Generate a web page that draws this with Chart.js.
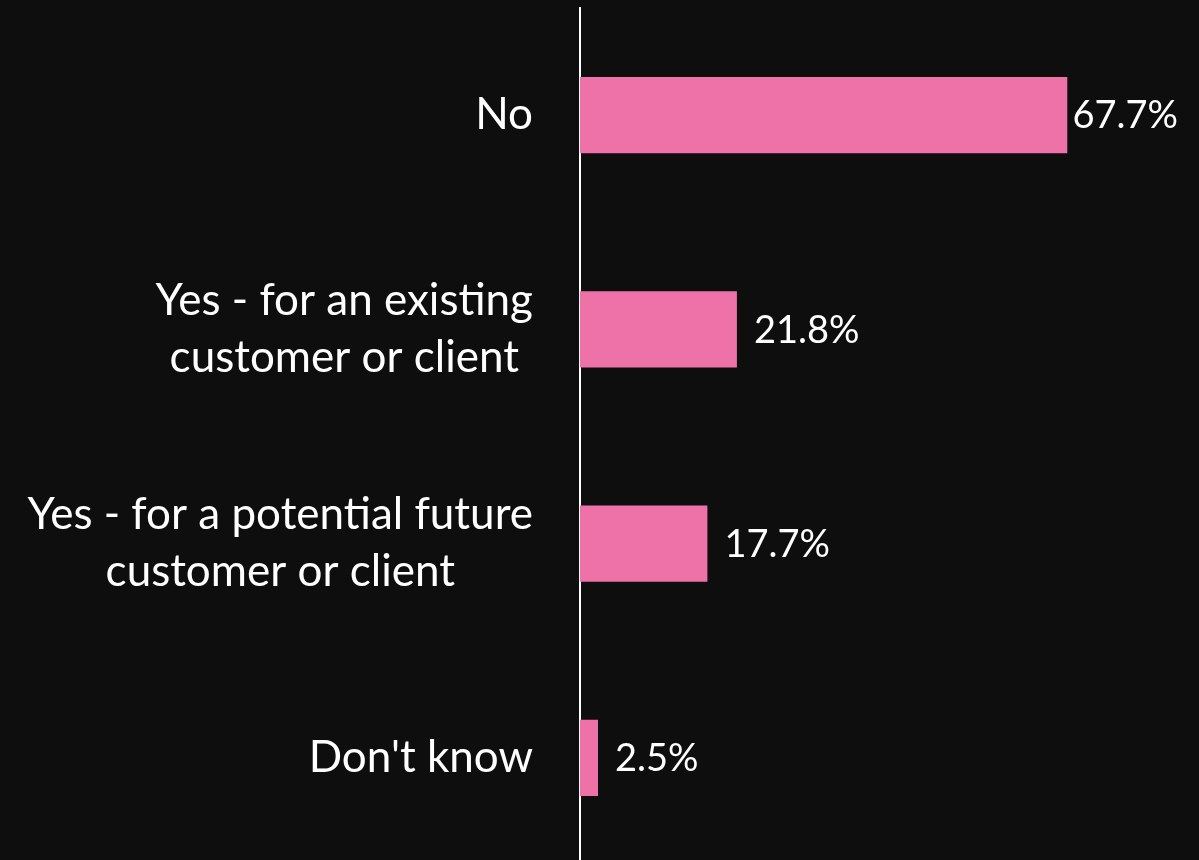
<!DOCTYPE html>
<html>
<head>
<meta charset="utf-8">
<script src="https://cdn.jsdelivr.net/npm/chart.js@4"></script>
<style>
  html, body { margin: 0; padding: 0; background: #0e0e0e; overflow: hidden; }
  #wrap { width: 1199px; height: 865px; }
</style>
</head>
<body>
<div id="wrap"><canvas id="answerChart"></canvas></div>
<script>
// answer categories (one entry per line of the label)
var categories = [
  ["No"],
  ["Yes - for an existing", "customer or client"],
  ["Yes - for a potential future", "customer or client"],
  ["Don't know"]
];
var shares = [67.7, 21.8, 17.7, 2.5];
var valueLabels = ["67.7%", "21.8%", "17.7%", "2.5%"];

var labelFont = "44px Lato";
var valueFont = "38px Lato";

// category labels: each block right-aligned to the axis, its lines centered
var categoryLabels = {
  id: "categoryLabels",
  afterDraw: function(chart) {
    var ctx = chart.ctx;
    var yScale = chart.scales.y;
    var rightEdge = 533;
    var lineGap = 57;
    ctx.save();
    ctx.font = labelFont;
    ctx.fillStyle = "#ffffff";
    ctx.textAlign = "center";
    ctx.textBaseline = "middle";
    categories.forEach(function(lines, i) {
      var widest = 0;
      lines.forEach(function(l) { widest = Math.max(widest, ctx.measureText(l).width); });
      var cx = rightEdge - widest / 2;
      var cy = yScale.getPixelForValue(i);
      var startY = cy - (lines.length - 1) * lineGap / 2;
      lines.forEach(function(l, j) {
        ctx.fillText(l, cx, startY + j * lineGap);
      });
    });
    ctx.restore();
  }
};

// percentage next to the end of each bar, pulled in when near the right edge
var barValues = {
  id: "barValues",
  afterDatasetsDraw: function(chart) {
    var ctx = chart.ctx;
    var meta = chart.getDatasetMeta(0);
    ctx.save();
    ctx.font = valueFont;
    ctx.fillStyle = "#ffffff";
    ctx.textAlign = "left";
    ctx.textBaseline = "middle";
    meta.data.forEach(function(bar, i) {
      var text = valueLabels[i];
      var w = ctx.measureText(text).width;
      var x = Math.max(bar.x + 5, Math.min(bar.x + 17, 1178 - w));
      ctx.fillText(text, x, bar.y + 1);
    });
    ctx.restore();
  }
};

new Chart(document.getElementById("answerChart"), {
  type: "bar",
  data: {
    labels: categories.map(function(c) { return c.join(" "); }),
    datasets: [{
      data: shares,
      backgroundColor: "#ee72a8",
      borderWidth: 0,
      categoryPercentage: 1,
      barPercentage: 0.355
    }]
  },
  options: {
    indexAxis: "y",
    responsive: true,
    maintainAspectRatio: false,
    animation: false,
    layout: { padding: { top: 8, right: 0, bottom: 0, left: 0 } },
    plugins: {
      legend: { display: false },
      tooltip: { enabled: false }
    },
    scales: {
      x: {
        min: 0,
        max: 86,
        display: false
      },
      y: {
        grid: { display: false, drawTicks: false },
        border: { display: true, color: "#ffffff", width: 2 },
        ticks: { display: false },
        afterFit: function(scale) { scale.width = 580; }
      }
    }
  },
  plugins: [categoryLabels, barValues]
});
</script>
</body>
</html>
